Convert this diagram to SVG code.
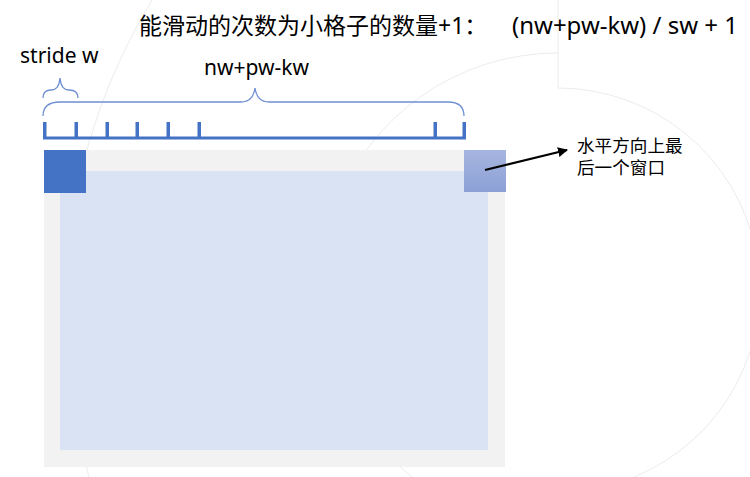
<svg xmlns="http://www.w3.org/2000/svg" width="750" height="477" viewBox="0 0 750 477">
<style>
  .deco { fill: none; stroke: #ececec; stroke-width: 1; }
  .t { font-family: "Noto Sans", "Noto Sans CJK SC", sans-serif; fill: #000; }
  .brace { fill: none; stroke: #6f8fd3; stroke-width: 1.3; }
  .blue { fill: #4472c4; }
</style>
<defs>
  <linearGradient id="lastwin" x1="0" y1="0" x2="0" y2="1">
    <stop offset="0" stop-color="#a7b6e0"/>
    <stop offset="1" stop-color="#8ba0d5"/>
  </linearGradient>
  <marker id="arrow" viewBox="0 0 10 10" refX="9" refY="5" markerWidth="5" markerHeight="5" orient="auto" markerUnits="strokeWidth">
    <path d="M0,0 L10,5 L0,10 z" fill="#000"/>
  </marker>
</defs>
<rect width="750" height="477" fill="#fff"/>
<g id="background">
  <path class="deco" d="M152,0 A595,595 0 0 0 89,477"/>
  <path class="deco" d="M558,0 L558,53 A237,237 0 0 0 412,477"/>
  <path class="deco" d="M558,53 L558,88 A202,202 0 0 1 634,477"/>
</g>
<g id="title">
  <text class="t" x="139" y="34" font-size="23">能滑动的次数为小格子的数量+1：<tspan x="512" font-size="24" textLength="226" lengthAdjust="spacingAndGlyphs">(nw+pw-kw) / sw + 1</tspan></text>
</g>
<g id="stride-label">
  <text class="t" x="20" y="63" font-size="21">stride w</text>
  <path class="brace" d="M43,98 Q43,90 51,90 Q59,90 60,78 Q61,90 69,90 Q78,90 78,98"/>
</g>
<g id="range-label">
  <text class="t" x="204" y="75" font-size="21">nw+pw-kw</text>
  <path class="brace" d="M43,116 Q43,102 60,102 L241,102 Q253,102 255,88 Q257,102 269,102 L448,102 Q464,102 464,116"/>
</g>
<g id="ruler">
  <rect class="blue" x="43" y="136.5" width="423" height="3"/>
  <rect class="blue" x="43" y="122" width="3.5" height="17"/>
  <rect class="blue" x="74.5" y="122" width="3.5" height="17"/>
  <rect class="blue" x="105.5" y="122" width="3.5" height="17"/>
  <rect class="blue" x="135.5" y="122" width="3.5" height="17"/>
  <rect class="blue" x="166.5" y="122" width="3.5" height="17"/>
  <rect class="blue" x="197.5" y="122" width="3.5" height="17"/>
  <rect class="blue" x="433.5" y="122" width="3.5" height="17"/>
  <rect class="blue" x="462.5" y="122" width="3.5" height="17"/>
</g>
<g id="input">
  <rect x="44" y="150" width="461" height="317" fill="#f2f2f2"/>
  <rect x="60" y="171" width="428" height="279" fill="#dae3f3"/>
</g>
<g id="first-window">
  <rect class="blue" x="44" y="150" width="42" height="43"/>
</g>
<g id="last-window">
  <rect x="464" y="150" width="42" height="42" fill="url(#lastwin)"/>
</g>
<g id="connectors">
  <line x1="485" y1="170" x2="567" y2="150" stroke="#000" stroke-width="2" marker-end="url(#arrow)"/>
</g>
<g id="last-window-label">
  <text class="t" x="577" y="152" font-size="17.6">水平方向上最</text>
  <text class="t" x="577" y="174" font-size="17.6">后一个窗口</text>
</g>
</svg>
